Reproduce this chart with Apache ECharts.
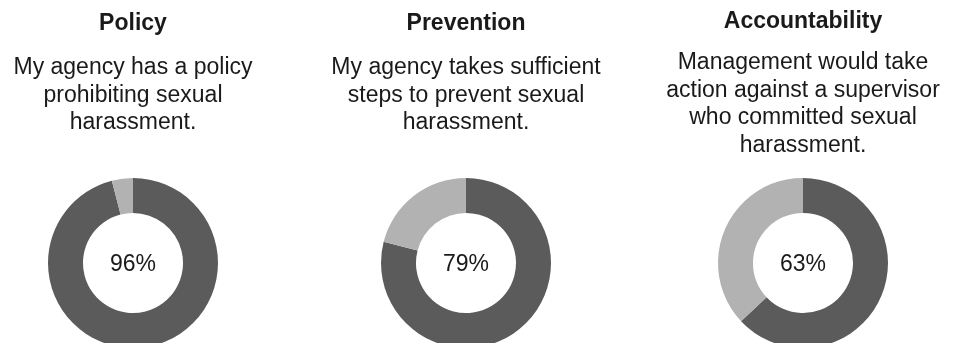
<!DOCTYPE html>
<html>
<head>
<meta charset="utf-8">
<script src="https://cdn.jsdelivr.net/npm/echarts@6/dist/echarts.min.js"></script>
<style>
html,body{margin:0;padding:0;background:#fff;}
#main{width:955px;height:343px;}
</style>
</head>
<body>
<div id="main"></div>
<script>
const categories = ['Policy', 'Prevention', 'Accountability'];
const statements = [
  'My agency has a policy\nprohibiting sexual\nharassment.',
  'My agency takes sufficient\nsteps to prevent sexual\nharassment.',
  'Management would take\naction against a supervisor\nwho committed sexual\nharassment.'
];
const agreePct = [96, 79, 63];
const otherPct = [4, 21, 37];

const centersX = [133, 466, 803];
const centerY = 263;
const titleY = [10, 10, 8];
const bodyY = [54, 54, 49];
const DARK = '#5b5b5b';
const LIGHT = '#b2b2b2';
const FONT = '"Liberation Sans", Arial, sans-serif';

const chart = echarts.init(document.getElementById('main'), null, {renderer: 'canvas'});

const graphics = [];
categories.forEach((c, i) => {
  graphics.push({
    type: 'text', x: centersX[i], y: titleY[i], silent: true,
    style: {text: c, textAlign: 'center', textVerticalAlign: 'top',
      font: 'bold 23px ' + FONT, lineHeight: 27.5, fill: '#1a1a1a'}
  });
  graphics.push({
    type: 'text', x: centersX[i], y: bodyY[i], silent: true,
    style: {text: statements[i], textAlign: 'center', textVerticalAlign: 'top',
      font: '23px ' + FONT, lineHeight: 27.5, fill: '#1a1a1a'}
  });
});

const series = categories.map((c, i) => ({
  type: 'pie',
  name: c,
  center: [centersX[i], centerY],
  radius: [50, 85],
  startAngle: 90,
  clockwise: true,
  silent: true,
  animation: false,
  labelLine: {show: false},
  emphasis: {disabled: true},
  data: [
    {value: agreePct[i], name: 'Agree', itemStyle: {color: DARK},
      label: {show: true, position: 'center', formatter: '{v|{c}%}',
        rich: {v: {fontFamily: FONT, fontSize: 23, color: '#1a1a1a', padding: [4, 0, 0, 0]}}}},
    {value: otherPct[i], name: 'Other', itemStyle: {color: LIGHT},
      label: {show: false}}
  ]
}));

chart.setOption({
  animation: false,
  graphic: graphics,
  series: series
});
</script>
</body>
</html>
